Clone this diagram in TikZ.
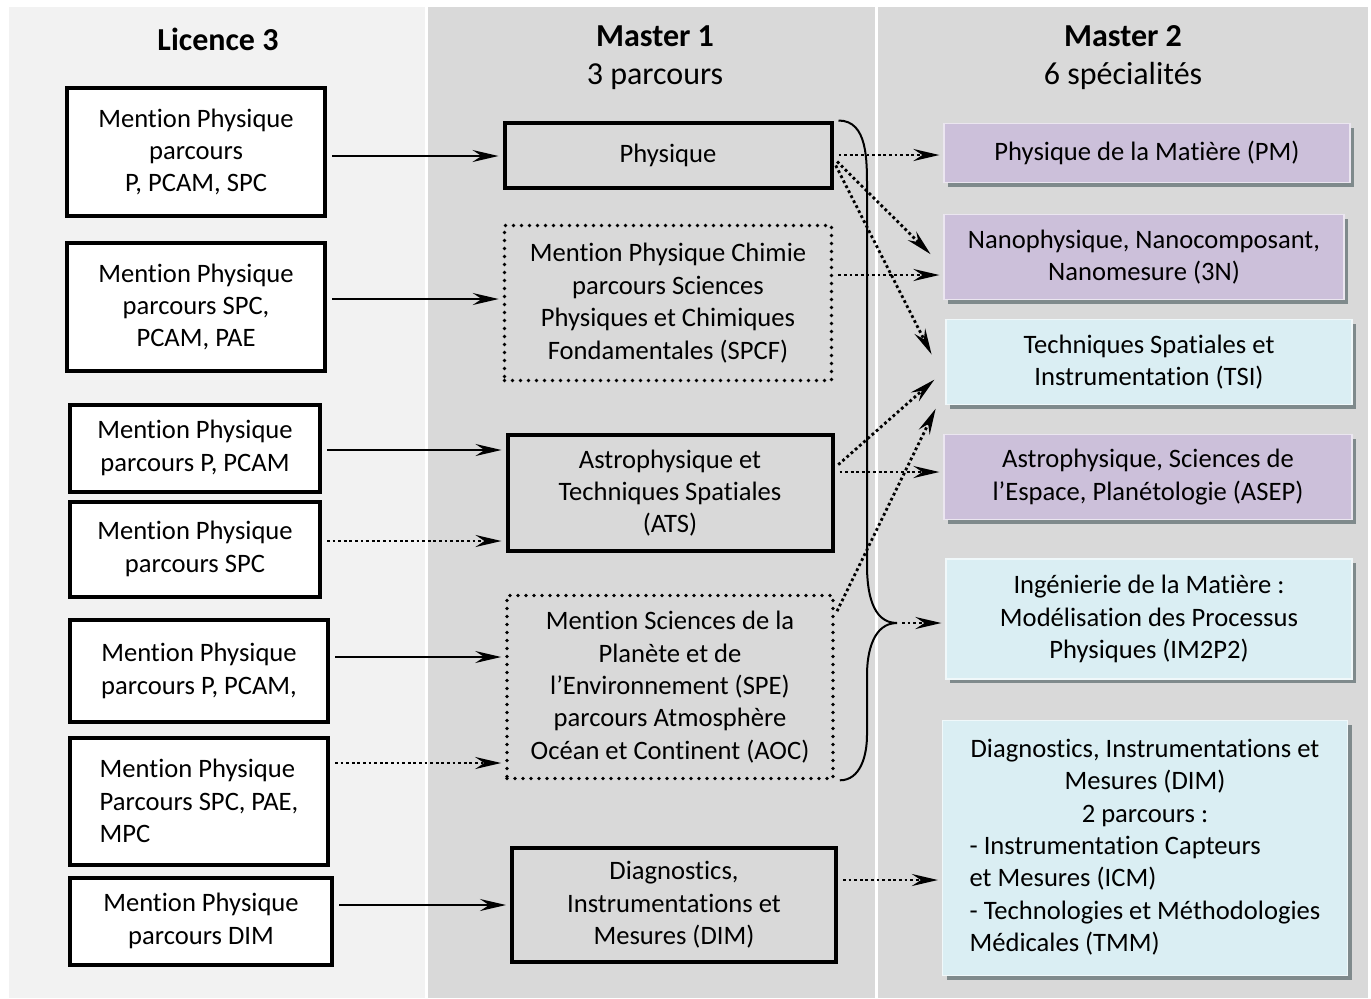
\documentclass[tikz,border=0pt]{standalone}
\usepackage{fontspec}
\setmainfont{Carlito}[Ligatures=NoCommon, Contextuals=NoAlternate]
\usetikzlibrary{arrows.meta,shadows}
\definecolor{fondlic}{HTML}{F2F2F2}
\definecolor{fondmas}{HTML}{D9D9D9}
\definecolor{lavande}{HTML}{CCC0DA}
\definecolor{ciel}{HTML}{DAEEF3}
\definecolor{ombre}{HTML}{7F8A8C}
\begin{document}
\begin{tikzpicture}[x=0.5pt,y=-0.5pt,
    every node/.style={font=\fontsize{13.3}{16.2}\selectfont, align=center, inner sep=0pt},
    titre/.style={font=\fontsize{16}{19}\selectfont},
    licbox/.style={draw, line width=2pt, fill=white},
    m1box/.style={draw, line width=2pt},
    m1pts/.style={draw, line width=1.8pt, line cap=round, dash pattern=on 0pt off 4pt},
    m2box/.style={fill=#1, draw=#1!40!white, line width=0.6pt,
        drop shadow={shadow xshift=2pt, shadow yshift=-2pt, opacity=1, fill=ombre}},
    fleche/.style={line width=1pt, shorten <=2.5pt, shorten >=2pt,
        -{Stealth[length=13pt,width=6pt,inset=4.5pt]}},
    pointille/.style={fleche, line width=1.4pt, dash pattern=on 1.4pt off 1.4pt}
]
    \useasboundingbox (0,0) rectangle (1371,998);
    % fonds des colonnes
    \fill[white] (0,0) rectangle (1371,998);
    \fill[fondlic] (9,7) rectangle (425,998);
    \fill[fondmas] (428,7) rectangle (875,998);
    \fill[fondmas] (878,7) rectangle (1368,998);

    % titres
    \node[titre] (tl3) at (218,39) {\textbf{Licence 3}};
    \node[titre] (tm1) at (655,58) {\textbf{Master 1}\\3 parcours};
    \node[titre] (tm2) at (1123,58) {\textbf{Master 2}\\6 spécialités};

    % Licence 3
    \node[licbox, minimum width=129pt, minimum height=64pt] (l1) at (196,152) {Mention Physique\\parcours\\P, PCAM, SPC};
    \node[licbox, minimum width=129pt, minimum height=64pt] (l2) at (196,307) {Mention Physique\\parcours SPC,\\PCAM, PAE};
    \node[licbox, minimum width=125pt, minimum height=43.5pt] (l3) at (195,448) {Mention Physique\\parcours P, PCAM};
    \node[licbox, minimum width=125pt, minimum height=47.5pt] (l4) at (195,549) {Mention Physique\\parcours SPC};
    \node[licbox, minimum width=129pt, minimum height=51pt] (l5) at (199,671) {Mention Physique\\parcours P, PCAM,};
    \node[licbox, minimum width=129pt, minimum height=63.5pt, align=left] (l6) at (199,801) {Mention Physique\\Parcours SPC, PAE,\\MPC};
    \node[licbox, minimum width=131pt, minimum height=43.5pt] (l7) at (201,921) {Mention Physique\\parcours DIM};

    % Master 1
    \node[m1box, minimum width=163.5pt, minimum height=32.5pt] (m1) at (668,155) {Physique};
    \node[m1pts, minimum width=163.5pt, minimum height=77.5pt] (m2) at (668,303) {Mention Physique Chimie\\parcours Sciences\\Physiques et Chimiques\\Fondamentales (SPCF)};
    \node[m1box, minimum width=162.5pt, minimum height=58pt] (m3) at (670,493) {Astrophysique et\\Techniques Spatiales\\(ATS)};
    \node[m1pts, minimum width=163pt, minimum height=91.5pt] (m4) at (670,687) {Mention Sciences de la\\Planète et de\\l’Environnement (SPE)\\parcours Atmosphère\\Océan et Continent (AOC)};
    \node[m1box, minimum width=162pt, minimum height=57pt] (m5) at (674,905) {Diagnostics,\\Instrumentations et\\Mesures (DIM)};

    % Master 2
    \node[m2box=lavande, minimum width=203pt, minimum height=29.5pt] (r1) at (1147,153) {Physique de la Matière (PM)};
    \node[m2box=lavande, minimum width=200pt, minimum height=42.5pt] (r2) at (1144,257) {Nanophysique, Nanocomposant,\\Nanomesure (3N)};
    \node[m2box=ciel, minimum width=203pt, minimum height=42.5pt] (r3) at (1149,362) {Techniques Spatiales et\\Instrumentation (TSI)};
    \node[m2box=lavande, minimum width=204pt, minimum height=42.5pt] (r4) at (1148,477) {Astrophysique, Sciences de\\l’Espace, Planétologie (ASEP)};
    \node[m2box=ciel, minimum width=203pt, minimum height=60pt] (r5) at (1149,619) {Ingénierie de la Matière :\\Modélisation des Processus\\Physiques (IM2P2)};
    \node[m2box=ciel, minimum width=202.5pt, minimum height=127.5pt] (r6) at (1145,848) {\begin{tabular}{@{}l@{}}
        \multicolumn{1}{@{}c@{}}{Diagnostics, Instrumentations et}\\
        \multicolumn{1}{@{}c@{}}{Mesures (DIM)}\\
        \multicolumn{1}{@{}c@{}}{2 parcours :}\\
        - Instrumentation Capteurs\\
        et Mesures (ICM)\\
        - Technologies et Méthodologies\\
        Médicales (TMM)
    \end{tabular}};

    % Licence 3 -> Master 1
    \draw[fleche] ([yshift=-2pt]l1.east) -- ([yshift=-2pt]l1.east -| m1.west);
    \draw[fleche] ([yshift=4pt]l2.east) -- ([yshift=4pt]l2.east -| m2.west);
    \draw[fleche] ([yshift=-1pt]l3.east) -- ([yshift=-1pt]l3.east -| m3.west);
    \draw[pointille] ([yshift=4pt]l4.east) -- ([yshift=4pt]l4.east -| m3.west);
    \draw[fleche] ([yshift=7pt]l5.east) -- ([yshift=7pt]l5.east -| m4.west);
    \draw[pointille] ([yshift=19pt]l6.east) -- ([yshift=19pt]l6.east -| m4.west);
    \draw[fleche] ([yshift=8pt]l7.east) -- ([yshift=8pt]l7.east -| m5.west);

    % accolade
    \coordinate (pointe) at (897,623);
    \draw[line width=1pt] ([xshift=2.5pt]m1.north east) to[out=0,in=90] (867,190) -- (867,565)
        to[out=-90,in=180] (pointe) to[out=180,in=90] (867,675) -- (867,735)
        to[out=-90,in=0] ([xshift=2.5pt]m4.south east);

    % Master 1 -> Master 2
    \draw[pointille] (m1.east) -- (m1.east -| r1.west);
    \draw[pointille] ([yshift=-1.5pt]m1.east) -- ([xshift=-5pt]r2.west);
    \draw[pointille] ([yshift=-3pt]m1.east) -- ([xshift=-6pt,yshift=2pt]r3.west);
    \draw[pointille] ([yshift=14pt]m2.east) -- ([yshift=14pt]m2.east -| r2.west);
    \draw[pointille] ([yshift=12.5pt]m3.east) -- ([xshift=-4pt,yshift=-7.5pt]r3.west);
    \draw[pointille] ([yshift=10.5pt]m3.east) -- ([yshift=10.5pt]m3.east -| r4.west);
    \draw[pointille] ([yshift=-11pt]m4.north east) -- ([xshift=-4pt]r3.south west);
    \draw[pointille] (pointe) -- (pointe -| r5.west);
    \draw[pointille] ([yshift=12.5pt]m5.east) -- ([yshift=12.5pt]m5.east -| r6.west);
\end{tikzpicture}
\end{document}
